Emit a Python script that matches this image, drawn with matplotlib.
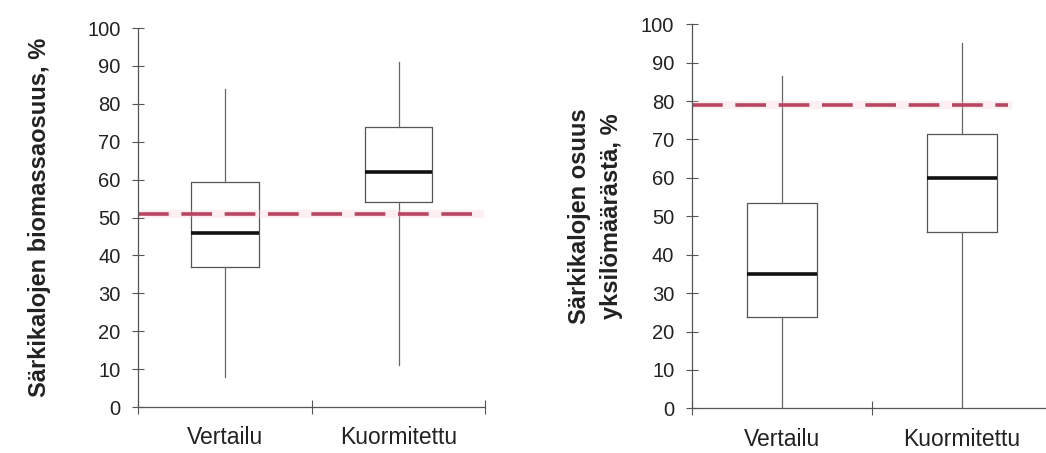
import matplotlib.pyplot as plt

plt.rcParams['font.family'] = ['Liberation Sans', 'DejaVu Sans']

categories = ['Vertailu', 'Kuormitettu']

# biomassaosuus (vasen kuva)
bio_whislo = [8, 11]
bio_q1 = [37, 54]
bio_med = [46, 62]
bio_q3 = [59.5, 74]
bio_whishi = [84, 91]
bio_ref = 51

# osuus yksilömäärästä (oikea kuva)
num_whislo = [0, 0]
num_q1 = [23.7, 46]
num_med = [35, 60]
num_q3 = [53.5, 71.3]
num_whishi = [86.5, 95]
num_ref = 79


def stats(lo, q1, med, q3, hi):
    return [dict(label=categories[i], whislo=lo[i], q1=q1[i], med=med[i],
                 q3=q3[i], whishi=hi[i], fliers=[]) for i in range(len(categories))]


def draw(ax, st, ref, ylabel, lpad, xmax):
    ax.bxp(st, positions=[0.5, 1.5], widths=0.39, showcaps=False,
           showfliers=False, patch_artist=False,
           boxprops=dict(color='#555555', linewidth=0.9),
           whiskerprops=dict(color='#666666', linewidth=0.9),
           medianprops=dict(color='#111111', linewidth=2.6))
    # haalea punainen katkoviiva
    ax.axhline(ref, xmax=xmax, color='#f4ccd6', linewidth=6, alpha=0.3)
    ax.axhline(ref, xmax=xmax, color='#b84660', linewidth=2.6, dashes=(8.5, 3.5))
    ax.set_xlim(0, 2)
    ax.set_ylim(0, 100)
    ax.set_yticks(range(0, 101, 10))
    ax.set_xticks([0, 1, 2])
    ax.set_xticklabels([])
    ax.set_xticks([0.5, 1.5], minor=True)
    ax.set_xticklabels(categories, minor=True)
    ax.tick_params(axis='x', which='minor', length=0, pad=14, labelsize=16.5,
                   labelcolor='#222222')
    ax.tick_params(axis='x', which='major', direction='inout', length=10,
                   color='#555555')
    ax.tick_params(axis='y', direction='inout', length=9, color='#555555',
                   labelsize=14.5, pad=8, labelcolor='#222222')
    for s in ['top', 'right']:
        ax.spines[s].set_visible(False)
    for s in ['left', 'bottom']:
        ax.spines[s].set_color('#555555')
        ax.spines[s].set_linewidth(0.9)
    ax.set_ylabel(ylabel, fontsize=17, fontweight='bold', labelpad=lpad,
                  linespacing=1.5, color='#222222')


fig = plt.figure(figsize=(10.46, 4.53), dpi=100)
ax1 = fig.add_axes([0.132, 0.1015, 0.332, 0.8366])
ax2 = fig.add_axes([0.6613, 0.0986, 0.344, 0.848])

draw(ax1, stats(bio_whislo, bio_q1, bio_med, bio_q3, bio_whishi), bio_ref,
     'Särkikalojen biomassaosuus, %', 26, 0.985)
draw(ax2, stats(num_whislo, num_q1, num_med, num_q3, num_whishi), num_ref,
     'Särkikalojen osuus\nyksilömäärästä, %', 13, 0.88)

fig.savefig('out.png', dpi=100)
